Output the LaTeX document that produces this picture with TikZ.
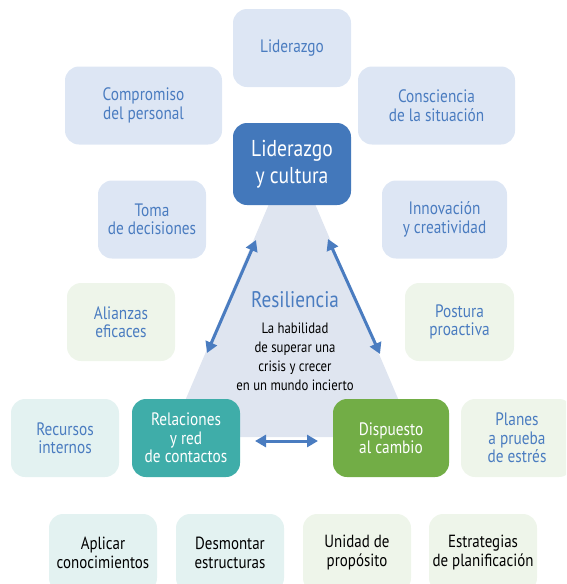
\documentclass[tikz,border=0pt]{standalone}
\usepackage{fontspec}
\setmainfont{PT Sans}[FakeStretch=0.85]
\usetikzlibrary{arrows.meta}
\definecolor{lbox}{HTML}{DDE6F4}
\definecolor{tri}{HTML}{DFE5F0}
\definecolor{btext}{HTML}{4A7CC0}
\definecolor{dbox}{HTML}{4378BB}
\definecolor{teal}{HTML}{3FADA9}
\definecolor{gbox}{HTML}{72AD46}
\definecolor{lgreen}{HTML}{EEF5EA}
\definecolor{lteal}{HTML}{E3F2F1}
\definecolor{arr}{HTML}{4A7CC0}
\tikzset{
  card/.style={rectangle, rounded corners=14pt, inner sep=0pt, align=center,
    minimum height=78pt},
  bluecard/.style={card, fill=lbox, text=btext, font=\fontsize{18}{18.5}\selectfont},
  greencard/.style={card, fill=lgreen, text=btext, font=\fontsize{18}{18.5}\selectfont},
  tealcard/.style={card, fill=lteal, text=btext, font=\fontsize{18}{18.5}\selectfont},
  botcard/.style={card, text=black, font=\fontsize{17.6}{19}\selectfont},
  strong/.style={card, text=white, font=\fontsize{18}{18.5}\selectfont},
  twoway/.style={arr, line width=3pt, {Triangle[length=11pt,width=12pt]}-{Triangle[length=11pt,width=12pt]}}
}
\begin{document}
\begin{tikzpicture}[x=1pt,y=-1pt]
\useasboundingbox (0,0) rectangle (566,584);
\clip (0,0) rectangle (566,584);
% triangle
\coordinate (tA) at (292,150);
\coordinate (tB) at (169.6,437);
\coordinate (tC) at (414.4,437);
\fill[tri] (tA) -- (tB) -- (tC) -- cycle;
% top boxes
\node[bluecard, minimum width=118pt] (lid) at (292,48) {Liderazgo};
\node[bluecard, minimum width=157pt] (comp) at (143.5,105.5) {Compromiso\\del personal};
\node[bluecard, minimum width=157pt] (cons) at (436.5,105.5) {Consciencia\\de la situación};
\node[card, fill=dbox, text=white, minimum width=118pt, minimum height=82pt,
  font=\fontsize{23}{27}\selectfont] (cult) at (292,164) {Liderazgo\\y cultura};
\node[bluecard, minimum width=108pt] (toma) at (152,219.5) {Toma\\de decisiones};
\node[bluecard, minimum width=125pt] (inno) at (444.5,219.5) {Innovación\\y creatividad};
\node[greencard, minimum width=108pt] (ali) at (121,322) {Alianzas\\eficaces};
\node[greencard, minimum width=109pt] (post) at (459.5,322) {Postura\\proactiva};
% resilience text
\node[text=btext, font=\fontsize{22.6}{24}\selectfont] (res) at (295,300) {Resiliencia};
\node[align=center, text=black, font=\fontsize{15}{19}\selectfont] (def) at (295,357)
  {La habilidad\\de superar una\\crisis y crecer\\en un mundo incierto};
% row of four
\node[tealcard, minimum width=108pt] (rec) at (65,438) {Recursos\\internos};
\node[strong, fill=teal, minimum width=108pt] (rel) at (186,438) {Relaciones\\y red\\de contactos};
\node[strong, fill=gbox, minimum width=116pt] (disp) at (391,438) {Dispuesto\\al cambio};
\node[greencard, minimum width=112pt] (plan) at (517,438) {Planes\\a prueba\\de estrés};
% bottom row
\node[botcard, fill=lteal, minimum width=108pt] (apl) at (103,553) {Aplicar\\conocimientos};
\node[botcard, fill=lteal, minimum width=108pt] (des) at (230,553) {Desmontar\\estructuras};
\node[botcard, fill=lgreen, minimum width=108pt] (uni) at (357,553) {Unidad de\\propósito};
\node[botcard, fill=lgreen, minimum width=108pt] (est) at (483,553) {Estrategias\\de planificación};
% arrows
\coordinate (l1) at (256,240);
\coordinate (l2) at (207,353);
\coordinate (r1) at (328,239);
\coordinate (r2) at (380,354);
\coordinate (h1) at (255,441);
\coordinate (h2) at (318,441);
\draw[twoway] (l1) -- (l2);
\draw[twoway] (r1) -- (r2);
\draw[twoway] (h1) -- (h2);
\end{tikzpicture}
\end{document}
